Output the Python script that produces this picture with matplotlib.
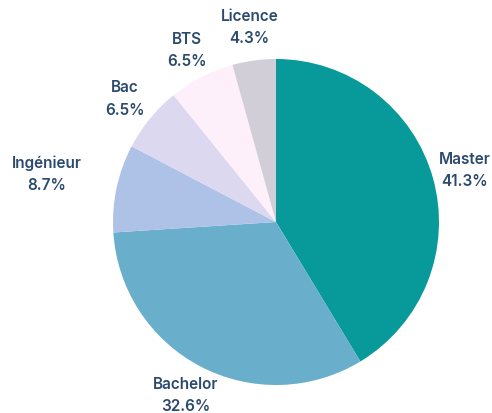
import matplotlib.pyplot as plt
import numpy as np

labels = ["Master", "Bachelor", "Ingénieur", "Bac", "BTS", "Licence"]
values = [41.3, 32.6, 8.7, 6.5, 6.5, 4.3]
colors = ["#08999b", "#69aecb", "#adc2e6", "#dcd8ef", "#fdf0fb", "#d2ced8"]
label_dist = [1.2, 1.195, 1.44, 1.2, 1.19, 1.21]

fig = plt.figure(figsize=(4.92, 4.14), dpi=100)
ax = fig.add_axes([0, 0, 1, 1])

wedges, _ = ax.pie(values, colors=colors, startangle=90, counterclock=False,
                   radius=1, wedgeprops=dict(linewidth=0))

total = sum(values)
for w, lab, v, d in zip(wedges, labels, values, label_dist):
    ang = np.deg2rad((w.theta1 + w.theta2) / 2)
    ax.text(d * np.cos(ang), d * np.sin(ang), f"{lab}\n{v / total * 100:.1f}%",
            ha="center", va="center", fontsize=11, color="#2b4a6e",
            family="Inter", fontweight="semibold", linespacing=1.6)

ax.set_xlim(-276 / 163, (492 - 276) / 163)
ax.set_ylim(-(414 - 223) / 163, 223 / 163)
ax.set_aspect("equal")
ax.axis("off")

fig.savefig("out.png", dpi=100)
